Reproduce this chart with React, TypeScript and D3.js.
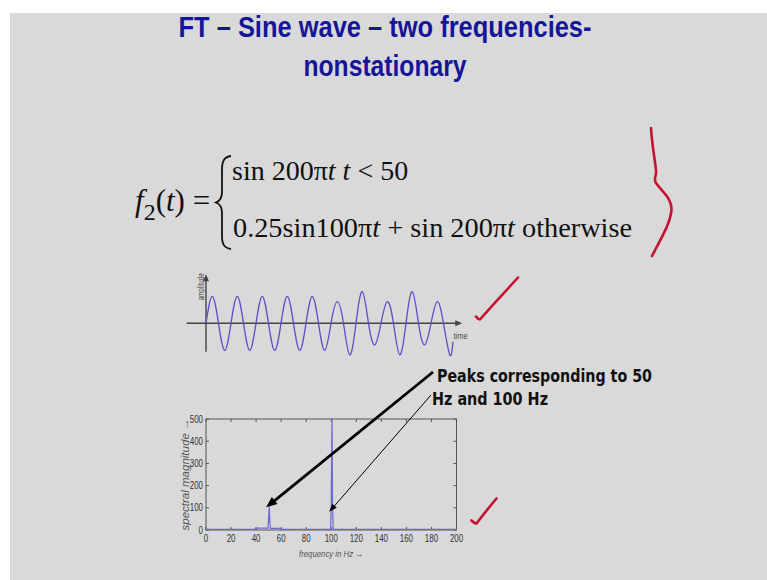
import React from "react";
import * as d3 from "d3";

// Time-domain signal: amplitude sampled every quarter cycle of the 100 Hz tone
const WAVE_TIME = [
  0, 0.25, 0.5, 0.75, 1, 1.25, 1.5, 1.75, 2, 2.25, 2.5, 2.75, 3, 3.25, 3.5, 3.75,
  4, 4.25, 4.5, 4.75, 5, 5.25, 5.5, 5.75, 6, 6.25, 6.5, 6.75, 7, 7.25, 7.5, 7.75,
  8, 8.25, 8.5, 8.75, 9, 9.25, 9.5, 9.75, 9.88,
];
const WAVE_AMPLITUDE = [
  0, 1, 0, -1, 0, 1, 0, -1, 0, 1, 0, -1, 0, 1, 0, -1,
  0, 1, 0, -1, 0, 0.8, 0, -1.17, 0, 1.17, 0, -0.8, 0, 0.8, 0, -1.17,
  0, 1.17, 0, -0.8, 0, 0.8, 0, -1.17, -0.68,
];

// Magnitude spectrum
const SPECTRUM_FREQ = [0, 39, 39.5, 49.5, 50, 50.5, 51, 51.5, 60, 60.5, 99.5, 100, 100.3, 100.6, 101, 101.5, 102, 200];
const SPECTRUM_MAG = [3, 3, 8, 8, 55, 105, 35, 7, 7, 3, 3, 120, 360, 500, 130, 3, 3, 3];

const FREQ_TICKS = [0, 20, 40, 60, 80, 100, 120, 140, 160, 180, 200];
const MAG_TICKS = [0, 100, 200, 300, 400, 500];

// Arrow targets on the spectrum (frequency, magnitude)
const PEAK_50_TARGET = [48, 102];
const PEAK_100_TARGET = [98.4, 82];

const TITLE_LINES = ["FT \u2013 Sine wave \u2013 two frequencies-", "nonstationary"];
const NOTE_LINES = ["Peaks corresponding to 50", "Hz and 100 Hz"];

const BG = "#d9d9d9";
const RED = "#c3132f";
const WAVE_COLOR = "#5a4fc9";
const SPEC_COLOR = "#6f66d8";

function arrowHead(x1: number, y1: number, x2: number, y2: number, len: number, half: number) {
  const a = Math.atan2(y2 - y1, x2 - x1);
  const bx = x2 - len * Math.cos(a);
  const by = y2 - len * Math.sin(a);
  const px = -Math.sin(a) * half;
  const py = Math.cos(a) * half;
  return `${x2},${y2} ${bx + px},${by + py} ${bx - px},${by - py}`;
}

export default function App() {
  // time plot scales
  const tx = d3.scaleLinear().domain([0, 10]).range([206, 456]);
  const ay = d3.scaleLinear().domain([-1, 1]).range([350.3, 296.3]);
  const waveLine = d3
    .line<number>()
    .x((_, i) => tx(WAVE_TIME[i]))
    .y((d) => ay(d))
    .curve(d3.curveNatural);

  // spectrum scales
  const fx = d3.scaleLinear().domain([0, 200]).range([206, 456.5]);
  const my = d3.scaleLinear().domain([0, 500]).range([530, 419]);
  const specLine = d3
    .line<number>()
    .x((_, i) => fx(SPECTRUM_FREQ[i]))
    .y((d) => my(d));

  const axisY = ay(0);
  const axisLeft = tx(-0.77);
  const axisRight = tx(10.25);
  const vTop = ay(1.82);
  const vBottom = ay(-1.05);

  const thick = { x1: 433, y1: 372, x2: fx(PEAK_50_TARGET[0]), y2: my(PEAK_50_TARGET[1]) };
  const thin = { x1: 431, y1: 395, x2: fx(PEAK_100_TARGET[0]), y2: my(PEAK_100_TARGET[1]) };

  const tickFont = "'Liberation Sans', 'DejaVu Sans Condensed', sans-serif";

  return (
    <div style={{ position: "absolute", left: 0, top: 0 }}>
      <svg width={767} height={580} style={{ display: "block" }}>
        <rect x={0} y={0} width={767} height={580} fill="#ffffff" />
        <rect x={10} y={13} width={757} height={567} fill={BG} />

        {/* title */}
        <g fill="#15159a" fontFamily="'Liberation Sans', 'DejaVu Sans Condensed', sans-serif" fontWeight="bold" fontSize={30}>
          <text x={178.5} y={37} textLength={413} lengthAdjust="spacingAndGlyphs">
            {TITLE_LINES[0]}
          </text>
          <text x={303.5} y={75.5} textLength={163} lengthAdjust="spacingAndGlyphs">
            {TITLE_LINES[1]}
          </text>
        </g>

        {/* piecewise definition */}
        <g fill="#111" fontFamily="'Liberation Serif', 'DejaVu Serif', serif">
          <text x={135} y={211} fontSize={31}>
            <tspan fontStyle="italic">f</tspan>
            <tspan fontSize={24} dy={9}>2</tspan>
            <tspan dy={-9}>(</tspan>
            <tspan fontStyle="italic">t</tspan>
            <tspan>) =</tspan>
          </text>
          <path
            d="M231 156 C224 157,222 161,222 170 L222 192 C222 198,220 201,216 202.5 C220 204,222 207,222 213 L222 236 C222 244,224 248,231 249"
            fill="none"
            stroke="#111"
            strokeWidth={1.8}
          />
          <text x={232} y={180} fontSize={28}>
            <tspan>sin 200π</tspan>
            <tspan fontStyle="italic">t</tspan>
            <tspan> </tspan>
            <tspan fontStyle="italic">t</tspan>
            <tspan> &lt; 50</tspan>
          </text>
          <text x={233} y={236.5} fontSize={28.3}>
            <tspan>0.25sin100π</tspan>
            <tspan fontStyle="italic">t</tspan>
            <tspan> + sin 200π</tspan>
            <tspan fontStyle="italic">t</tspan>
            <tspan> otherwise</tspan>
          </text>
        </g>

        {/* time-domain plot */}
        <g>
          <line x1={axisLeft} y1={axisY} x2={axisRight - 5} y2={axisY} stroke="#444" strokeWidth={1.4} />
          <polygon points={arrowHead(axisLeft, axisY, axisRight, axisY, 7, 3)} fill="#444" />
          <line x1={tx(0)} y1={vBottom} x2={tx(0)} y2={vTop + 5} stroke="#444" strokeWidth={1.4} />
          <polygon points={arrowHead(tx(0), vBottom, tx(0), vTop, 7, 3)} fill="#444" />
          <path d={waveLine(WAVE_AMPLITUDE) || ""} fill="none" stroke={WAVE_COLOR} strokeWidth={1.3} />
          <text
            transform={`translate(${tx(0) - 2.5},${ay(1.35)}) rotate(-90)`}
            textAnchor="middle"
            fontFamily="'Liberation Sans', sans-serif"
            fontSize={8.5}
            fill="#444"
            textLength={27}
            lengthAdjust="spacingAndGlyphs"
          >
            amplitude
          </text>
          <text x={tx(9.9)} y={axisY + 16} fontFamily={tickFont} fontSize={8.5} fill="#444" textLength={14} lengthAdjust="spacingAndGlyphs">
            time
          </text>
        </g>

        {/* spectrum plot */}
        <g>
          <rect
            x={fx(0)}
            y={my(500)}
            width={fx(200) - fx(0)}
            height={my(0) - my(500)}
            fill="none"
            stroke="#555"
            strokeWidth={1}
          />
          {FREQ_TICKS.map((t) => (
            <g key={`f${t}`}>
              <line x1={fx(t)} x2={fx(t)} y1={my(0)} y2={my(0) - 3} stroke="#555" />
              <line x1={fx(t)} x2={fx(t)} y1={my(500)} y2={my(500) + 3} stroke="#555" />
              <text
                x={fx(t)}
                y={my(0) + 12}
                textAnchor="middle"
                fontFamily={tickFont}
                fontSize={10}
                fill="#333"
                textLength={String(t).length * 4.4}
                lengthAdjust="spacingAndGlyphs"
              >
                {t}
              </text>
            </g>
          ))}
          {MAG_TICKS.map((t) => (
            <g key={`m${t}`}>
              <line x1={fx(0)} x2={fx(0) + 3} y1={my(t)} y2={my(t)} stroke="#555" />
              <line x1={fx(200)} x2={fx(200) - 3} y1={my(t)} y2={my(t)} stroke="#555" />
              <text
                x={fx(0) - 3}
                y={my(t) + 3.5}
                textAnchor="end"
                fontFamily={tickFont}
                fontSize={10}
                fill="#333"
                textLength={String(t).length * 4.4}
                lengthAdjust="spacingAndGlyphs"
              >
                {t}
              </text>
            </g>
          ))}
          <path d={specLine(SPECTRUM_MAG) || ""} fill="none" stroke={SPEC_COLOR} strokeWidth={1.2} />
          <text
            transform={`translate(188.5,${(my(0) + my(500)) / 2}) rotate(-90)`}
            textAnchor="middle"
            fontFamily="'Liberation Sans', sans-serif"
            fontStyle="italic"
            fontSize={11}
            fill="#555"
            textLength={112}
            lengthAdjust="spacingAndGlyphs"
          >
            spectral magnitude →
          </text>
          <text
            x={331}
            y={557}
            textAnchor="middle"
            fontFamily={tickFont}
            fontStyle="italic"
            fontSize={9.5}
            fill="#555"
            textLength={64}
            lengthAdjust="spacingAndGlyphs"
          >
            frequency in Hz →
          </text>
        </g>

        {/* annotation arrows */}
        <line x1={thick.x1} y1={thick.y1} x2={thick.x2 + 7} y2={thick.y2 - 5.5} stroke="#000" strokeWidth={2.8} />
        <polygon points={arrowHead(thick.x1, thick.y1, thick.x2, thick.y2, 11, 4.5)} fill="#000" />
        <line x1={thin.x1} y1={thin.y1} x2={thin.x2 + 4} y2={thin.y2 - 4.5} stroke="#000" strokeWidth={1} />
        <polygon points={arrowHead(thin.x1, thin.y1, thin.x2, thin.y2, 8, 3)} fill="#000" />

        <g fontFamily="'DejaVu Sans Condensed', 'DejaVu Sans', sans-serif" fontWeight="bold" fontSize={18} fill="#111">
          <text x={437} y={381.5} textLength={215} lengthAdjust="spacingAndGlyphs">
            {NOTE_LINES[0]}
          </text>
          <text x={432} y={405} textLength={116} lengthAdjust="spacingAndGlyphs">
            {NOTE_LINES[1]}
          </text>
        </g>

        {/* hand-drawn marks */}
        <g fill="none" stroke={RED} strokeWidth={2.6} strokeLinecap="round" strokeLinejoin="round">
          <path d="M651 128 C652 145,655 160,656 170 C657 176,653 178,656 183 C662 192,672 198,671.5 210 C670 225,660 240,652 256" />
          <path d="M476 316.5 C477 318,478.5 319.5,480 319.5 C490 308,505 292,518 277.5" />
          <path d="M471.5 520.5 C473 522,475 523.5,476.5 523.5 C483 515,490 506,496.5 498.5" />
        </g>
      </svg>
    </div>
  );
}
